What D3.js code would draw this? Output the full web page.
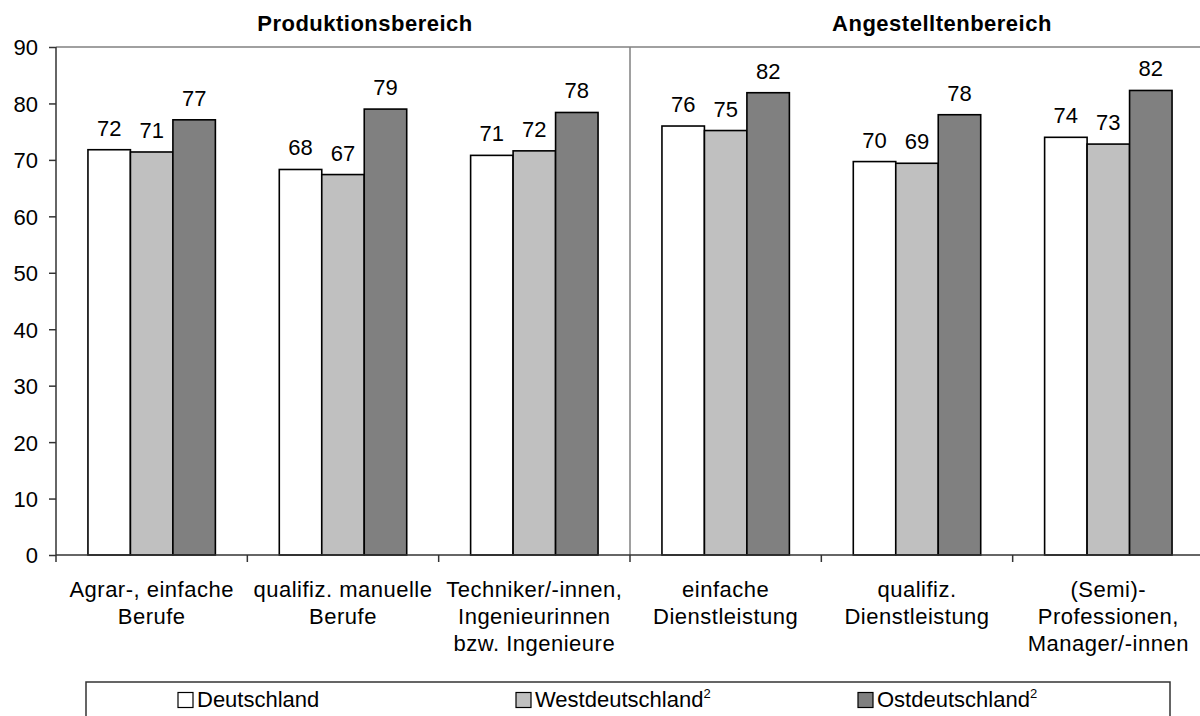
<!DOCTYPE html>
<html><head><meta charset="utf-8">
<script src="https://cdn.jsdelivr.net/npm/d3@7"></script>
<style>body{margin:0;background:#fff}svg{display:block}text{font-family:"Liberation Sans",Arial,sans-serif;fill:#000}</style>
</head><body><svg id="c" width="1200" height="716"></svg>
<script>
const categories = [
  ["Agrar-, einfache","Berufe"],
  ["qualifiz. manuelle","Berufe"],
  ["Techniker/-innen,","Ingenieurinnen","bzw. Ingenieure"],
  ["einfache","Dienstleistung"],
  ["qualifiz.","Dienstleistung"],
  ["(Semi)-","Professionen,","Manager/-innen"]
];
const seriesNames = ["Deutschland","Westdeutschland","Ostdeutschland"];
const seriesSup = ["","2","2"];
const seriesColors = ["#ffffff","#c0c0c0","#808080"];
const deutschland = [71.8, 68.3, 70.8, 76.0, 69.7, 74.0];
const westdeutschland = [71.4, 67.4, 71.6, 75.2, 69.4, 72.8];
const ostdeutschland = [77.1, 79.0, 78.4, 81.9, 78.0, 82.3];
const yTicks = [0,10,20,30,40,50,60,70,80,90];
const groups = [{name:"Produktionsbereich", cx:365}, {name:"Angestelltenbereich", cx:942}];

const series = [deutschland, westdeutschland, ostdeutschland];
const svg = d3.select("#c");
const x0 = 56, x1 = 1204, yTop = 47, yBot = 555;
const x = d3.scaleBand().domain(d3.range(categories.length)).range([x0, x1]).paddingInner(0).paddingOuter(0);
const y = d3.scaleLinear().domain([0, 90]).range([yBot, yTop]);
const barW = x.bandwidth() * 0.222;
const xs = d3.scaleBand().domain(d3.range(3)).range([0, barW*3]);
const off = (x.bandwidth() - barW*3)/2;

// top gridline
svg.append("line").attr("x1", x0).attr("x2", 1200).attr("y1", y(90)).attr("y2", y(90)).attr("stroke","#808080").attr("stroke-width",1.5);
// separator
svg.append("line").attr("x1", x(3)).attr("x2", x(3)).attr("y1", y(90)).attr("y2", yBot).attr("stroke","#808080").attr("stroke-width",1.5);

// bars
series.forEach((vals, si) => {
  svg.append("g").selectAll("rect").data(vals).join("rect")
    .attr("x", (d,i) => x(i) + off + xs(si))
    .attr("y", d => y(d))
    .attr("width", xs.bandwidth())
    .attr("height", d => yBot - y(d))
    .attr("fill", seriesColors[si]).attr("stroke","#000").attr("stroke-width",1.6);
  svg.append("g").selectAll("text").data(vals).join("text")
    .attr("x", (d,i) => x(i) + off + xs(si) + xs.bandwidth()/2)
    .attr("y", d => y(d) - 14)
    .attr("text-anchor","middle").attr("font-size", 22)
    .text(d => Math.round(d));
});

// y axis
const yAxis = d3.axisLeft(y).tickValues(yTicks).tickSize(7).tickPadding(11).tickSizeOuter(0);
const gy = svg.append("g").attr("transform", `translate(${x0},0)`).call(yAxis);
gy.select(".domain").attr("stroke","#333").attr("stroke-width",1.5).attr("d", `M0,${yTop}V${yBot+7}`);
gy.selectAll(".tick line").attr("stroke","#333").attr("stroke-width",1.5);
gy.selectAll(".tick text").attr("font-size",22).attr("font-family","Liberation Sans, Arial, sans-serif").attr("fill","#000").attr("dy","0.36em");

// x axis
svg.append("line").attr("x1", x0).attr("x2", 1200).attr("y1", yBot).attr("y2", yBot).attr("stroke","#333").attr("stroke-width",1.5);
svg.append("g").selectAll("line").data(d3.range(1, categories.length)).join("line")
  .attr("x1", i => x(i)).attr("x2", i => x(i)).attr("y1", yBot).attr("y2", yBot+7)
  .attr("stroke","#333").attr("stroke-width",1.5);
svg.append("g").selectAll("text").data(categories).join("text")
  .attr("text-anchor","middle").attr("font-size",22).attr("letter-spacing","0.5px")
  .each(function(lines, i){
    d3.select(this).selectAll("tspan").data(lines).join("tspan")
      .attr("x", x(i) + x.bandwidth()/2)
      .attr("y", (l, j) => 597 + j*27)
      .text(l => l);
  });

// group titles
svg.append("g").selectAll("text").data(groups).join("text")
  .attr("x", d => d.cx).attr("y", 31).attr("text-anchor","middle").attr("letter-spacing","0.5px")
  .attr("font-size",22).attr("font-weight","bold").text(d => d.name);

// legend
svg.append("rect").attr("x",86).attr("y",682).attr("width",1084).attr("height",60)
  .attr("fill","none").attr("stroke","#333").attr("stroke-width",1.5);
const legX = [178, 516, 858];
seriesNames.forEach((n, i) => {
  svg.append("rect").attr("x", legX[i]).attr("y", 692.5).attr("width", 15).attr("height", 15)
    .attr("fill", seriesColors[i]).attr("stroke","#000").attr("stroke-width",1.2);
  const t = svg.append("text").attr("x", legX[i]+19).attr("y", 707).attr("font-size",22);
  t.append("tspan").text(n);
  if (seriesSup[i]) t.append("tspan").attr("font-size",13).attr("dy",-9).text(seriesSup[i]);
});
</script></body></html>
